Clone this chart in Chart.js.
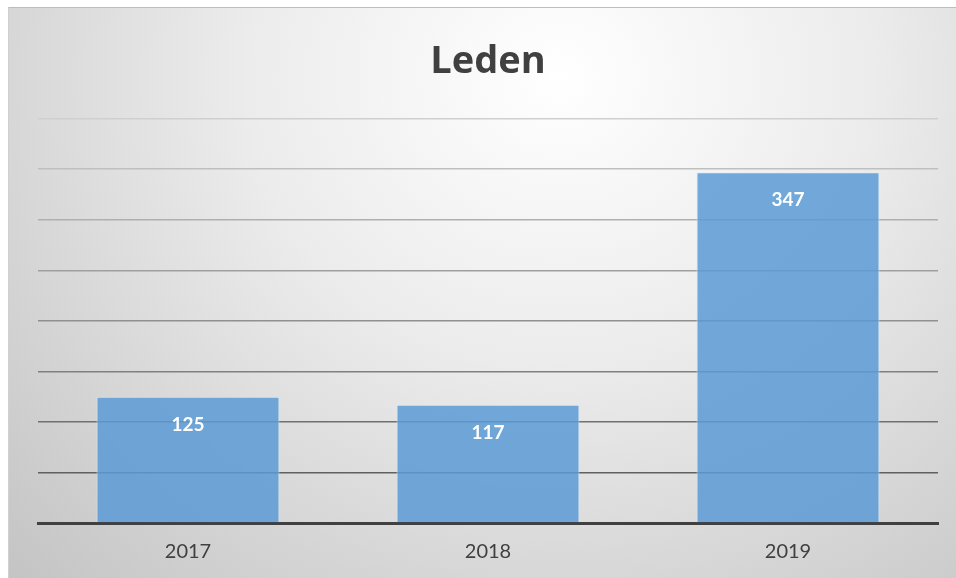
<!DOCTYPE html>
<html>
<head>
<meta charset="utf-8">
<script src="https://cdn.jsdelivr.net/npm/chart.js@4/dist/chart.umd.min.js"></script>
<style>
    body { margin: 0; background: #fff; }
    #wrap {
        position: absolute; left: 8px; top: 7px; width: 948px; height: 571px;
        border-top: 1px solid #bdbdbd; border-left: 1px solid #d0d0d0;
        background: radial-gradient(ellipse farthest-corner at 58% 12%, #ffffff 0%, #ececec 40%, #d4d4d4 75%, #c4c4c4 100%);
    }
    #chart { position: absolute; left: 0; top: 0; }
</style>
</head>
<body>
<div id="wrap"></div>
<canvas id="chart" width="956" height="578"></canvas>
<script>
var years = ['2017', '2018', '2019']
var members = [125, 117, 347]
var chartTitle = 'Leden'
var yMax = 400
var yStep = 50

// white bold numbers inside the top of each bar
var valueLabels = {
    id: 'valueLabels',
    afterDatasetsDraw: function(chart){
        var ctx = chart.ctx
        var meta = chart.getDatasetMeta(0)
        ctx.save()
        ctx.fillStyle = '#ffffff'
        ctx.font = 'bold 19px Lato'
        ctx.textAlign = 'center'
        ctx.textBaseline = 'middle'
        meta.data.forEach(function(bar, i){
            ctx.fillText(String(members[i]), bar.x, bar.y + 28)
        })
        ctx.restore()
    }
}

var ctx = document.getElementById('chart')
var leden = new Chart(ctx, {
    type: 'bar',
    data: {
        labels: years,
        datasets: [{
            data: members,
            backgroundColor: 'rgba(91, 155, 213, 0.85)',
            borderColor: 'rgba(220, 235, 250, 0.8)',
            borderWidth: 1,
            barPercentage: 0.61,
            categoryPercentage: 1
        }]
    },
    options: {
        responsive: false,
        animation: false,
        layout: {
            padding: { left: 38, right: 18, top: 0, bottom: 5 }
        },
        plugins: {
            legend: { display: false },
            tooltip: { enabled: false },
            title: {
                display: true,
                text: chartTitle,
                color: '#404040',
                font: { family: 'Open Sans', size: 38, weight: 'bold', lineHeight: 1.2 },
                padding: { top: 39, bottom: 34 }
            }
        },
        scales: {
            x: {
                grid: { display: false },
                border: { display: true, color: '#404040', width: 3 },
                ticks: {
                    color: '#404040',
                    font: { family: 'Lato', size: 20 },
                    padding: 9
                }
            },
            y: {
                min: 0,
                max: yMax,
                ticks: { display: false, stepSize: yStep },
                border: { display: false },
                grid: {
                    drawTicks: false,
                    lineWidth: 1.5,
                    color: function(c){
                        var f = c.tick ? c.tick.value / yMax : 0
                        var g = Math.round(80 + 127 * f)
                        return 'rgb(' + g + ',' + g + ',' + g + ')'
                    }
                },
                afterFit: function(scale){ scale.width = 0 }
            }
        }
    },
    plugins: [valueLabels]
})
</script>
</body>
</html>
